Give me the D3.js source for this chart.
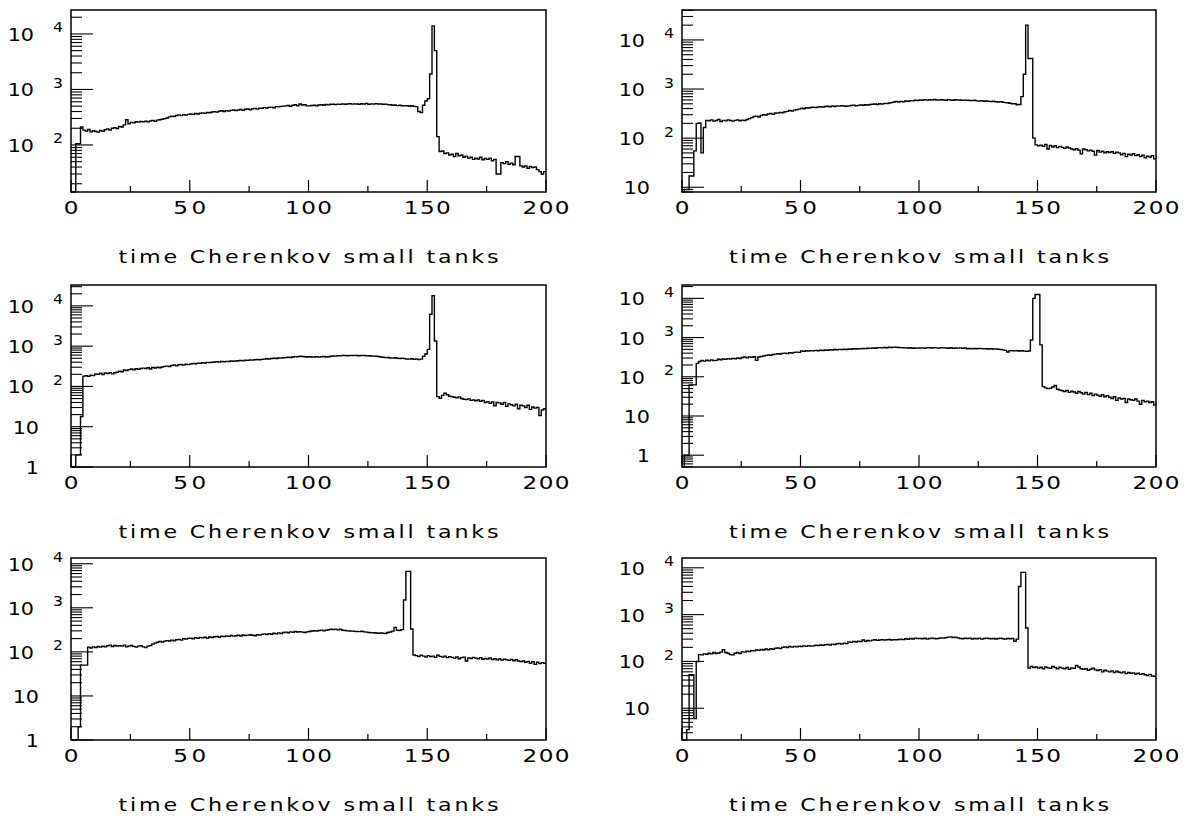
<!DOCTYPE html>
<html><head><meta charset="utf-8">
<script src="https://cdn.jsdelivr.net/npm/d3@7"></script>
<style>body{margin:0;background:#fff} svg{display:block}</style>
</head><body>
<svg id="c" width="1198" height="816"></svg>
<script>
// ---------- data ----------
const xTicks = [0, 50, 100, 150, 200];
const xMinorTicks = [25, 75, 125, 175];
const axisTitle = "time Cherenkov small tanks";

// 200 bins of width 1 (time 0..200), counts per bin
const tl = [
  0, 0, 105, 105, 210, 185, 178, 190, 172, 180,
  175, 170, 182, 176, 188, 195, 185, 200, 205, 198,
  215, 210, 230, 285, 240, 255, 250, 262, 258, 265,
  262, 268, 260, 270, 275, 268, 280, 285, 290, 298,
  305, 320, 330, 325, 340, 348, 338, 352, 345, 355,
  362, 355, 368, 360, 372, 378, 370, 385, 380, 392,
  398, 390, 405, 412, 400, 415, 408, 420, 425, 418,
  427, 435, 422, 440, 445, 432, 450, 455, 442, 460,
  458, 470, 462, 475, 480, 468, 490, 485, 495, 500,
  505, 515, 498, 520, 530, 510, 548, 525, 530, 505,
  505, 515, 520, 510, 525, 530, 520, 535, 528, 540,
  540, 532, 545, 538, 550, 542, 548, 555, 545, 550,
  548, 540, 552, 545, 560, 538, 550, 545, 555, 548,
  548, 540, 545, 532, 530, 520, 525, 512, 518, 510,
  505, 512, 498, 508, 495, 490, 400, 383, 520, 620,
  680, 1900, 14000, 5000, 141, 76, 78, 70, 72, 66,
  68, 62, 70, 64, 66, 60, 63, 58, 60, 55,
  58, 56, 60, 54, 57, 55, 58, 52, 55, 30,
  30, 48, 46, 50, 45, 47, 44, 62, 62, 42,
  40, 42, 38, 41, 39, 40, 36, 33, 30, 33
];
const tr = [
  4, 9, 9, 17, 17, 55, 200, 205, 50, 165,
  230, 225, 235, 222, 228, 240, 218, 230, 225, 235,
  228, 222, 230, 235, 226, 232, 228, 240, 250, 262,
  275, 280, 270, 290, 300, 295, 310, 320, 305, 325,
  323, 335, 330, 345, 350, 365, 355, 372, 380, 390,
  407, 398, 415, 410, 420, 425, 418, 430, 435, 428,
  440, 445, 435, 450, 442, 455, 448, 460, 452, 445,
  454, 462, 470, 458, 465, 475, 468, 480, 472, 485,
  490, 495, 485, 500, 494, 510, 505, 520, 530, 545,
  556, 545, 560, 550, 570, 565, 580, 575, 590, 585,
  600, 590, 610, 595, 605, 598, 612, 600, 595, 605,
  600, 592, 608, 598, 590, 605, 595, 600, 588, 595,
  590, 585, 580, 592, 575, 570, 580, 565, 572, 560,
  556, 562, 550, 545, 555, 540, 530, 525, 515, 500,
  500, 480, 485, 700, 2000, 20000, 4200, 4200, 100, 73,
  70, 72, 68, 74, 60, 71, 66, 70, 64, 68,
  65, 62, 66, 63, 60, 58, 61, 57, 48, 60,
  58, 55, 57, 54, 45, 56, 52, 54, 50, 53,
  51, 53, 49, 52, 50, 46, 49, 42, 47, 45,
  48, 44, 46, 42, 45, 40, 43, 41, 44, 38
];
const ml = [
  0, 0, 2, 2, 18, 180, 185, 178, 190, 186,
  205, 200, 212, 198, 215, 208, 220, 205, 218, 225,
  240, 232, 255, 248, 262, 270, 258, 275, 265, 280,
  285, 278, 292, 270, 295, 288, 300, 290, 305, 315,
  320, 312, 330, 340, 325, 345, 350, 338, 355, 348,
  360, 370, 365, 380, 375, 388, 382, 395, 390, 400,
  405, 410, 402, 418, 412, 420, 415, 428, 422, 430,
  435, 440, 432, 448, 445, 455, 450, 460, 465, 458,
  470, 478, 485, 480, 495, 500, 492, 510, 505, 515,
  520, 530, 525, 540, 550, 545, 562, 555, 548, 540,
  545, 538, 540, 550, 535, 545, 552, 540, 548, 560,
  570, 565, 580, 575, 590, 585, 578, 592, 585, 590,
  588, 580, 592, 585, 575, 580, 570, 565, 560, 555,
  540, 530, 520, 525, 510, 505, 515, 500, 495, 505,
  490, 482, 478, 485, 470, 480, 462, 478, 560, 640,
  830, 6200, 17800, 1340, 56, 51, 60, 68, 62, 57,
  56, 54, 52, 55, 50, 48, 47, 49, 45, 46,
  44, 46, 43, 45, 40, 42, 38, 41, 33, 40,
  39, 36, 40, 32, 37, 35, 33, 36, 28, 34,
  33, 30, 34, 27, 31, 29, 30, 19, 26, 28
];
const mr = [
  0, 1, 1, 62, 62, 62, 220, 245, 260, 250,
  265, 255, 270, 258, 262, 280, 272, 285, 278, 290,
  282, 295, 288, 300, 292, 310, 318, 305, 322, 315,
  325, 262, 318, 330, 340, 352, 360, 355, 370, 378,
  385, 380, 395, 400, 392, 410, 405, 418, 425, 420,
  455, 445, 460, 452, 465, 458, 470, 462, 475, 468,
  480, 475, 488, 482, 495, 490, 500, 495, 505, 498,
  510, 505, 518, 512, 520, 515, 528, 522, 535, 530,
  540, 535, 548, 555, 545, 560, 552, 565, 558, 570,
  565, 560, 555, 548, 545, 540, 550, 535, 542, 538,
  540, 545, 535, 548, 550, 540, 555, 545, 538, 550,
  545, 540, 535, 548, 530, 542, 538, 545, 532, 540,
  520, 528, 515, 525, 518, 530, 522, 515, 520, 512,
  520, 510, 515, 505, 498, 485, 470, 430, 465, 460,
  458, 462, 455, 460, 450, 445, 455, 870, 10000, 12500,
  12500, 650, 56, 52, 50, 51, 55, 60, 48, 46,
  44, 42, 45, 40, 43, 41, 38, 42, 39, 36,
  40, 35, 38, 33, 36, 34, 32, 35, 31, 33,
  30, 28, 31, 25, 29, 27, 28, 22, 27, 26,
  25, 27, 24, 20, 25, 23, 24, 22, 23, 19
];
const bl = [
  0, 0, 0, 2, 50, 50, 50, 128, 122, 130,
  125, 132, 128, 135, 130, 138, 142, 132, 140, 136,
  138, 135, 142, 130, 136, 140, 133, 128, 135, 138,
  130, 125, 135, 140, 150, 158, 165, 172, 168, 175,
  180, 176, 185, 178, 188, 192, 185, 198, 195, 202,
  205, 198, 210, 202, 212, 208, 215, 205, 218, 212,
  220, 225, 215, 228, 222, 230, 225, 235, 228, 232,
  238, 230, 242, 235, 240, 245, 238, 232, 245, 240,
  250, 256, 248, 260, 252, 265, 258, 270, 262, 275,
  280, 272, 285, 278, 290, 282, 288, 280, 275, 285,
  290, 298, 302, 295, 305, 312, 300, 310, 318, 325,
  320, 328, 315, 325, 310, 305, 300, 298, 295, 292,
  290, 288, 295, 285, 280, 275, 270, 272, 268, 265,
  270, 265, 262, 275, 282, 295, 360, 310, 305, 320,
  1500, 6700, 6700, 330, 85, 82, 78, 84, 80, 76,
  82, 78, 80, 75, 84, 79, 76, 80, 74, 78,
  75, 72, 77, 70, 74, 76, 62, 73, 71, 75,
  72, 70, 74, 68, 71, 69, 73, 67, 70, 66,
  69, 65, 68, 66, 64, 67, 63, 66, 62, 60,
  62, 58, 61, 55, 60, 52, 58, 54, 57, 55
];
const br = [
  2, 2, 3.5, 52, 52, 6, 100, 140, 138, 145,
  142, 150, 145, 155, 148, 152, 158, 178, 155, 150,
  140, 138, 150, 155, 148, 160, 158, 165, 162, 170,
  168, 175, 172, 180, 176, 185, 178, 188, 182, 192,
  195, 188, 200, 205, 198, 208, 202, 210, 205, 212,
  208, 215, 210, 218, 212, 215, 222, 218, 225, 220,
  228, 232, 225, 235, 230, 238, 242, 235, 245, 240,
  262, 255, 268, 260, 272, 265, 288, 270, 280, 275,
  285, 290, 282, 288, 292, 285, 290, 295, 288, 292,
  290, 295, 300, 292, 305, 298, 310, 302, 315, 308,
  310, 305, 312, 300, 308, 315, 310, 305, 312, 318,
  315, 322, 330, 335, 325, 330, 318, 310, 305, 312,
  308, 315, 302, 310, 305, 312, 300, 308, 315, 310,
  305, 310, 302, 308, 312, 305, 300, 310, 305, 308,
  270, 300, 4000, 8000, 8000, 520, 72, 78, 74, 76,
  72, 75, 70, 76, 73, 71, 78, 74, 70, 75,
  72, 70, 74, 68, 73, 71, 82, 76, 70, 68,
  70, 65, 68, 72, 66, 64, 67, 60, 65, 62,
  60, 63, 58, 62, 59, 57, 60, 55, 58, 56,
  57, 54, 56, 53, 55, 52, 50, 53, 49, 48
];
// y-axis ranges (log axes)
const yRanges = [[14.2, 27000], [8, 40700], [1, 33000], [0.5, 21900], [1, 13500], [2.1, 16200]];
const panelSeries = [tl, tr, ml, mr, bl, br];

// ---------- layout ----------
const cols = [{l: 71, r: 546}, {l: 682, r: 1156}];
const rows = [{t: 10, b: 192}, {t: 285, b: 467}, {t: 558, b: 740}];
const FONT = "'DejaVu Sans', sans-serif";

const svg = d3.select("#c");

// text helper: horizontally stretched glyphs (wide plotter-style font)
function addText(g, x, y, s, size, anchor, sx, width) {
  const t = g.append("text")
    .attr("transform", `translate(${x},${y}) scale(${sx},1)`)
    .attr("text-anchor", anchor).attr("font-family", FONT).attr("font-size", size)
    .attr("fill", "#000").text(s);
  if (width) t.attr("textLength", width / sx).attr("lengthAdjust", "spacing");
  return t;
}

panelSeries.forEach((vals, i) => {
  const c = cols[i % 2], r = rows[Math.floor(i / 2)];
  const [ymin, ymax] = yRanges[i];
  const x = d3.scaleLinear().domain([0, 200]).range([c.l, c.r]);
  const y = d3.scaleLog().domain([ymin, ymax]).range([r.b, r.t]);
  const g = svg.append("g");
  const clampV = v => Math.max(ymin, Math.min(ymax, v));

  // histogram outline
  const pts = [];
  vals.forEach((v, k) => { pts.push([k, v]); pts.push([k + 1, v]); });
  const line = d3.line().x(d => x(d[0])).y(d => y(clampV(d[1])));
  g.append("path").attr("d", line(pts))
    .attr("fill", "none").attr("stroke", "#000").attr("stroke-width", 1.4)
    .attr("stroke-linejoin", "miter");

  // x ticks (inward)
  xTicks.forEach(t => {
    g.append("line").attr("x1", x(t)).attr("x2", x(t)).attr("y1", r.b).attr("y2", r.b - 12)
      .attr("stroke", "#000").attr("stroke-width", 1.2);
    const s = String(t);
    addText(g, x(t), r.b + 22, s, 18.5, "middle", 1.25, s.length === 1 ? null : (s.length === 2 ? 33 : 47));
  });
  xMinorTicks.forEach(t => {
    g.append("line").attr("x1", x(t)).attr("x2", x(t)).attr("y1", r.b).attr("y2", r.b - 6)
      .attr("stroke", "#000").attr("stroke-width", 1.2);
  });

  // y ticks (log, inward)
  const n0 = Math.floor(Math.log10(ymin)), n1 = Math.ceil(Math.log10(ymax));
  for (let n = n0; n <= n1; n++) {
    for (let k = 1; k <= 9; k++) {
      const v = k * Math.pow(10, n);
      if (v < ymin * 0.999 || v > ymax * 1.001) continue;
      const yy = y(v);
      g.append("line").attr("x1", c.l).attr("x2", c.l + (k === 1 ? 22 : 11))
        .attr("y1", yy).attr("y2", yy).attr("stroke", "#000").attr("stroke-width", 1.1);
      if (k === 1) {
        if (n >= 2) {
          addText(g, c.l - 37, yy + 7, "10", 18.5, "end", 1.12, null);
          addText(g, c.l - 18, yy - 1.5, String(n), 14, "start", 1.12, null);
        } else {
          addText(g, c.l - 32, yy + 7, n === 1 ? "10" : "1", 18.5, "end", 1.12, null);
        }
      }
    }
  }

  // frame
  g.append("rect").attr("x", c.l).attr("y", r.t).attr("width", c.r - c.l).attr("height", r.b - r.t)
    .attr("fill", "none").attr("stroke", "#000").attr("stroke-width", 1.5);

  // axis title
  addText(g, (c.l + c.r) / 2, r.b + 71, axisTitle, 18.5, "middle", 1.2, 380);
});
</script>
</body></html>
